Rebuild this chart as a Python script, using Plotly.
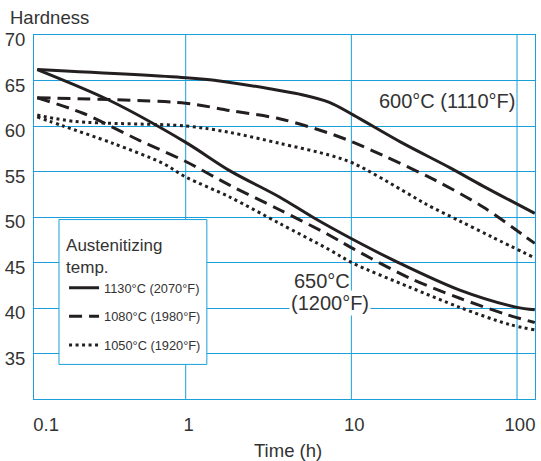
import math
import plotly.graph_objects as go

# ---------------- data ----------------
# 600 °C (1110 °F) tempering
t_600_1130 = [0.127, 1.0, 1.6, 3.21, 4.86, 7.37, 10.3, 20.0, 39.5, 62.4, 128]
h_600_1130 = [66.2, 65.3, 64.95, 64.1, 63.5, 62.6, 61.2, 58.2, 55.4, 53.4, 50.4]

t_600_1080 = [0.127, 1.0, 1.84, 3.68, 7.37, 10.3, 15.8, 31.6, 62.4, 113, 128]
h_600_1080 = [63.1, 62.5, 61.7, 60.8, 59.2, 58.2, 56.7, 54.1, 51.1, 47.8, 47.1]

t_600_1050 = [0.127, 0.215, 1.0, 1.84, 3.68, 7.37, 10.3, 20.0, 28.3, 44.7, 70.7, 128]
h_600_1050 = [61.2, 60.5, 60.0, 59.3, 58.1, 56.8, 55.9, 53.0, 51.4, 49.6, 47.8, 45.5]

# 650 °C (1200 °F) tempering
t_650_1130 = [0.127, 0.348, 1.0, 1.84, 3.68, 5.82, 10.3, 18.7, 44.7, 98.6, 128]
h_650_1130 = [66.2, 62.8, 58.2, 55.1, 52.2, 50.0, 47.5, 45.1, 42.0, 40.1, 39.8]

t_650_1080 = [0.127, 0.240, 0.528, 1.0, 1.84, 3.68, 7.37, 10.3, 22.4, 44.7, 85.9, 128]
h_650_1080 = [63.1, 61.4, 58.4, 56.1, 53.5, 50.8, 48.0, 46.5, 43.3, 41.1, 39.3, 38.4]

t_650_1050 = [0.127, 0.182, 0.363, 0.727, 1.0, 1.84, 3.68, 7.37, 10.3, 22.4, 44.7, 89.5, 128]
h_650_1050 = [61.0, 60.0, 58.1, 55.9, 54.4, 52.2, 49.3, 46.4, 44.9, 42.3, 40.1, 38.2, 37.6]

series_names = ["1130°C (2070°F)", "1080°C (1980°F)", "1050°C (1920°F)"]
x_tick_labels = ["0.1", "1", "10", "100"]
x_grid_values = [1, 10, 100]
y_tick_values = [35, 40, 45, 50, 55, 60, 65, 70]
label_600 = "600°C (1110°F)"
label_650_line1 = "650°C"
label_650_line2 = "(1200°F)"
legend_title = "Austenitizing<br>temp."

# ---------------- styling ----------------
X_START, X_END = 0.1214, 128.4
BLUE = "#1a9fdb"
INK = "#231f20"
TXT = "#333333"
FONT = "Liberation Sans, Arial, Helvetica, sans-serif"
dashes = ["solid", "13px,7px", "3px,3.5px"]

groups_600 = [(t_600_1130, h_600_1130), (t_600_1080, h_600_1080), (t_600_1050, h_600_1050)]
groups_650 = [(t_650_1130, h_650_1130), (t_650_1080, h_650_1080), (t_650_1050, h_650_1050)]

fig = go.Figure()

# vertical grid lines
for gx in x_grid_values:
    fig.add_shape(type="line", xref="x", yref="paper", x0=gx, x1=gx, y0=0, y1=1,
                  line=dict(color=BLUE, width=1), layer="below")

# legend box
fig.add_shape(type="rect", xref="paper", yref="paper", x0=0.0499, x1=0.345, y0=0.095, y1=0.493,
              line=dict(color=BLUE, width=1), fillcolor="white", layer="above")

for i, name in enumerate(series_names):
    tx, hy = groups_600[i]
    fig.add_trace(go.Scatter(x=tx, y=hy, mode="lines", name=name, legendgroup=f"g{i}",
                             line=dict(color=INK, width=3, dash=dashes[i], shape="spline", smoothing=0.9)))
    tx, hy = groups_650[i]
    fig.add_trace(go.Scatter(x=tx, y=hy, mode="lines", name=name, legendgroup=f"g{i}",
                             showlegend=False,
                             line=dict(color=INK, width=3, dash=dashes[i], shape="spline", smoothing=0.9)))

lx0, lx1 = math.log10(X_START), math.log10(X_END)
first_tick = 10 ** (lx0 + 0.055)

fig.update_xaxes(type="log", range=[lx0, lx1], showgrid=False, zeroline=False, automargin=False,
                 showline=True, linecolor=BLUE, linewidth=1, mirror=True,
                 tickvals=[first_tick] + x_grid_values, ticktext=x_tick_labels,
                 ticks="", ticklabelstandoff=9, ticklabelshift=3,
                 tickfont=dict(family=FONT, size=18.5, color=TXT))
fig.update_yaxes(range=[30, 70], tickvals=y_tick_values, showgrid=True, gridcolor=BLUE, gridwidth=1,
                 zeroline=False, showline=True, linecolor=BLUE, linewidth=1, mirror=True, automargin=False,
                 ticks="", ticklabelshift=5, ticklabelstandoff=4,
                 tickfont=dict(family=FONT, size=18.5, color=TXT))

fig.add_annotation(text="Hardness", xref="paper", yref="paper", x=-0.052, y=1.048,
                   xanchor="left", yanchor="middle", showarrow=False,
                   font=dict(family=FONT, size=18.5, color=TXT))
fig.add_annotation(text="Time (h)", xref="paper", yref="paper", x=0.507, y=-0.141,
                   xanchor="center", yanchor="middle", showarrow=False,
                   font=dict(family=FONT, size=18.5, color=TXT))
fig.add_annotation(text=label_600, xref="paper", yref="paper", x=0.824, y=0.820,
                   xanchor="center", yanchor="middle", showarrow=False,
                   font=dict(family=FONT, size=20, color=TXT))
fig.add_annotation(text=label_650_line1, xref="paper", yref="paper", x=0.575, y=0.325,
                   xanchor="center", yanchor="middle", showarrow=False,
                   font=dict(family=FONT, size=20, color=TXT))
fig.add_annotation(text=label_650_line2, xref="paper", yref="paper", x=0.591, y=0.265,
                   xanchor="center", yanchor="middle", showarrow=False,
                   bgcolor="white", borderpad=1,
                   font=dict(family=FONT, size=20, color=TXT))

fig.update_layout(
    width=541, height=461,
    margin=dict(l=34, r=6, t=35, b=62, autoexpand=False),
    paper_bgcolor="white", plot_bgcolor="white",
    showlegend=True,
    legend=dict(x=0.06, y=0.468, xanchor="left", yanchor="top",
                bgcolor="rgba(0,0,0,0)", borderwidth=0,
                title=dict(text=legend_title, font=dict(family=FONT, size=17, color=TXT)),
                font=dict(family=FONT, size=12.8, color=TXT),
                tracegroupgap=9, itemwidth=30),
)

fig.write_html("out.html", config={"displayModeBar": False},
               post_script="document.body.style.margin='0';")
